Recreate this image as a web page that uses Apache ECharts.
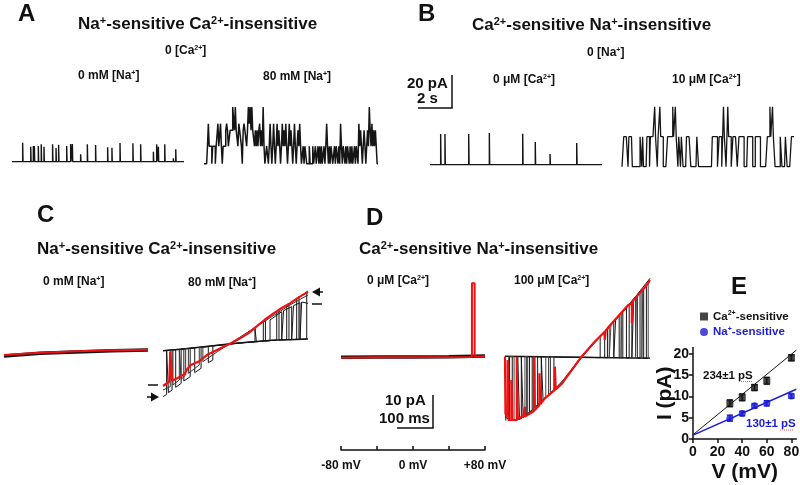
<!DOCTYPE html>
<html><head><meta charset="utf-8">
<script src="https://cdn.jsdelivr.net/npm/echarts@6/dist/echarts.min.js"></script>
<style>html,body{margin:0;padding:0;background:#fff}#c{width:800px;height:485px}</style>
</head><body><div id="c"></div>
<script>
// ---------------- DATA ----------------
// Panel A (time in s, current in pA)
const spikesA1 = [[0.62,11.4],[1.09,9],[1.24,9.4],[1.30,9.4],[1.53,9.4],[1.70,10.4],[1.86,9],[2.36,10.4],[2.56,8.2],[2.71,10.2],[3.18,9.4],[3.41,10.6],[3.51,10.6],[3.99,4.4],[4.38,10.4],[4.86,10],[5.56,8.6],[5.81,8.4],[6.28,11.2],[7.03,11],[7.48,10.4],[8.22,6],[8.41,10.4],[8.51,9],[8.88,10.4],[9.38,2],[9.52,7.4]];
const levelsA2 = [0, 10.5, 20, 24, 34];
const statesA2 = "00001311101110113113101112321122244242213221023221243424221212123121410011013101310131210131213101312101310121310010110001000100100101010010131010110010110103101101011010100101103121012101214213121210";
// Panel B
const spikesB1 = [[0.62,18.4],[0.87,18.4],[2.25,18.4],[3.45,19],[5.39,18.6],[6.12,13.6],[6.98,6.4],[8.53,13]];
const levelsB2 = [0, 18, 27, 36];
const statesB2 = "00111110111100000000011010000111011111311011311100000111111311311011011000011111000000011000000000000000011111100111013110131110011111001111110000111111000111111000000001113113110000001100001100000111";
// Panel C (ramp: mV, pA)
const c1Black = [[-80,-0.8],[-40,0],[0,0.4],[40,0.8],[80,1]];
const c1Red = [[-80,-0.5],[-40,0.2],[0,0.6],[40,0.9],[80,1.1]];
const c2Closed = [[-80,0.8],[-60,1.2],[-40,1.8],[-20,2.4],[0,3],[20,3.5],[40,3.9],[60,4.1],[80,4.3]];
const c2SweepA = [[-80,0.8],[-40,1.8],[0,3],[21.5,3.5],[21.5,7.5],[23,7.8],[23,3.5],[30.7,3.7],[30.7,9.7],[33,10],[33,3.7],[45.5,4],[45.5,12.5],[48,13],[48,4],[56.5,4.1],[56.5,14.5],[59,15],[59,4.1],[67.5,4.2],[67.5,16.5],[70,17],[70,4.2],[78.6,4.3],[78.6,18],[80,18.2]];
const c2SweepB = [[-80,-13],[-76,-12.3],[-76,1],[-74,1],[-74,-11.8],[-70,-11],[-70,1.1],[-66,1.1],[-66,-10.2],[-60,-9],[-60,1.3],[-57,1.3],[-57,-8.3],[-50,-7],[-50,1.5],[-45,1.6],[-45,-5.8],[-38,-4.5],[-38,1.8],[-30,2],[-30,-2.8],[-25,-2],[-25,2.2],[10,3.2],[38.1,3.8],[38.1,10],[51,12.5],[51,4],[53,4],[53,12.8],[62,14],[62,4.1],[64,4.1],[64,14.3],[71.2,15.2],[71.2,4.2],[73,4.2],[73,15.4],[80,15]];
const c2SweepC = [[-80,-11],[-72,-10],[-72,1],[-69,1],[-69,-9.5],[-62,-8],[-62,1.2],[-60,1.2],[-60,-7.8],[-55,-6.5],[-55,1.4],[-52,1.4],[-52,-6],[-40,-3.5],[-40,1.8],[-36,1.9],[-36,-2.5],[-20,0.5],[0,4],[20,7.5],[40,11],[60,14.5],[80,17.5]];
const c2Red = [[-80,-9.8],[-77.8,-9.5],[-73,-8.5],[-72,-8.4],[-72,0.5],[-70,0.5],[-70,-8.2],[-69,-8],[-61,-7],[-56,-6.2],[-54,-5],[-50,-3.6],[-45,-3],[-40,-2.4],[-32,-0.6],[-25,0.4],[-13,2],[-5,3],[5,4.5],[14,6],[23,8],[32,10],[42,12],[51,13.6],[60,15],[68,16.5],[77,18],[80,18.6]];
// Panel D
const d1Black = [[-80,-1.2],[-40,-1.1],[0,-1.1],[40,-1],[80,-0.8]];
const d1Red = [[-80,-1.3],[-40,-1.2],[0,-1.2],[65.5,-1.1],[65.5,21],[68.5,21],[68.5,-1],[80,-0.9]];
const d2Closed = [[-80,-0.9],[0,-1.2],[80,-1.5]];
const d2SweepA = [[-80,-1],[-79,-1],[-79,-21],[-75,-21],[-75,-1],[-72,-1],[-72,-20.5],[-62,-19.5],[-62,-1],[-60,-1],[-60,-19],[-50,-17],[-50,-1],[-47,-1],[-47,-16.5],[-40,-14.5],[-40,-1],[-38,-1],[-38,-14],[-20,-9.5],[0,-2.5],[20,3.5],[40,9.5],[40,-1.2],[42,-1.2],[42,10],[60,15.5],[60,-1.3],[62,-1.3],[62,16.3],[80,22.5]];
const d2SweepB = [[-80,-19],[-70,-21],[-66,-20],[-66,-1],[-64,-1],[-64,-19.8],[-56,-18.5],[-56,-1],[-53,-1],[-53,-18],[-44,-16],[-44,-1],[-30,-1.1],[-30,-12],[-26,-11],[-26,-1.1],[10,-1.2],[25,-1.3],[25,5],[30,6.5],[30,-1.3],[33,-1.3],[33,7.8],[46,11.2],[46,-1.3],[50,-1.3],[50,12.5],[54,13.7],[54,-1.4],[57,-1.4],[57,14.7],[66,17.3],[66,-1.4],[69,-1.4],[69,18.5],[73,19.5],[73,-1.5],[76,-1.5],[76,20.5],[80,21.5]];
const d2SweepC = [[-80,-18],[-76,-19.5],[-76,-1],[-70,-1],[-70,-20],[-58,-19],[-58,-1],[-55,-1],[-55,-18.2],[-35,-13],[-35,-1],[-32,-1],[-32,-12.5],[-10,-6.5],[15,2.5],[35,8],[35,-1.3],[37,-1.3],[37,8.8],[48,12],[48,-1.3],[49,-1.3],[49,12.3],[64,17],[64,-1.4],[65,-1.4],[65,17.2],[71,19],[71,-1.5],[72,-1.5],[72,19.2],[78,21],[78,-1.5],[80,-1.5]];
const d2Red = [[-80,-1],[-79.5,-1],[-79.5,-18],[-77,-19],[-77,-2],[-76,-2],[-76,-20],[-73,-21],[-73,-8],[-72,-8],[-72,-20],[-67,-20],[-67,-1],[-66,-1],[-66,-19.5],[-60,-19],[-58,-16],[-58,-19],[-48,-17.3],[-48,-1],[-47,-1],[-47,-17],[-42,-15.5],[-42,-6],[-41,-6],[-41,-15.2],[-36,-13.5],[-25,-11],[-25,-4],[-24,-4],[-24,-10.8],[-17,-9],[-5,-4.5],[3,-1.5],[19,3.5],[30,6.5],[30,4],[31,4],[31,6.8],[38,9],[56,14.5],[60,15],[60,9],[61,9],[61,15.8],[75,20],[80,22]];
const rampTicks = [-80,-40,0,40,80];
const rampLabels = [-80,0,80];
// Panel E
const voltsE = [30,40,50,60,80];
const caSens = [8.4,9.8,12.1,13.7,19.1];
const caErr = [0.8,0.8,0.7,0.8,0.7];
const naSens = [4.9,6.0,7.8,8.4,10.1];
const naErr = [0.7,0.5,0.5,0.6,0.5];
const caFit = [[0,1.0],[84,20.9]];
const naFit = [[0,0.9],[84,11.7]];
const eXTicks = [0,20,40,60,80];
const eYTicks = [0,5,10,15,20];

// ---------------- BUILD ----------------
const FF = '"Liberation Sans", Arial, Helvetica, sans-serif';
const BLUE = '#1c1cd8';
function spikeTrace(sp, t1){ const d=[[0,0]]; sp.forEach(([t,h])=>{d.push([t,0],[t,h],[t+0.02,h],[t+0.02,0]);}); d.push([t1,0]); return d; }
function stateTrace(str, lv, T){ const n=str.length, dt=T/n, d=[]; for(let i=0;i<n;i++){const v=lv[+str[i]]; d.push([i*dt,v],[(i+1)*dt,v]);} return d; }

const grids = [
 {left:12, top:95, width:172, height:80},
 {left:204, top:97, width:174, height:80},
 {left:430, top:98, width:172, height:80},
 {left:622, top:100, width:172, height:80},
 {left:4, top:270, width:144, height:150},
 {left:163, top:270, width:145, height:150},
 {left:341, top:270, width:144, height:150},
 {left:505, top:270, width:145, height:150},
 {left:341, top:440, width:144, height:10},
 {left:693, top:347.6, width:103.3, height:91.4}
].map(g=>Object.assign({outerBoundsMode:'none', containLabel:false}, g));
const xr=[[0,10],[0,10],[0,10],[0,10],[-80,80],[-80,80],[-80,80],[-80,80],[-80,80],[0,84]];
const yr=[[-8,40],[-8,40],[-8,40],[-8,40],[-20,25],[-20,25],[-20,25],[-20,25],[0,1],[0,21.5]];
const xAxes = xr.map((r,i)=>({gridIndex:i,type:'value',min:r[0],max:r[1],show:false}));
const yAxes = yr.map((r,i)=>({gridIndex:i,type:'value',min:r[0],max:r[1],show:false}));
// voltage axis under D
xAxes[8] = {gridIndex:8,type:'value',min:-80,max:80,show:true,position:'bottom',
  axisLine:{show:true,lineStyle:{color:'#111',width:1.5}},
  axisTick:{show:true,inside:true,length:4,customValues:rampTicks,lineStyle:{color:'#111',width:1.5}},
  axisLabel:{show:true,customValues:rampLabels,margin:10,fontSize:12,fontWeight:'bold',fontFamily:FF,color:'#111',
    formatter:v=>v<0?v+' mV':(v>0?'+'+v+' mV':'0 mV')},
  splitLine:{show:false}};
const axLbl = {show:true,fontSize:14,fontWeight:'bold',fontFamily:FF,color:'#111'};
xAxes[9] = {gridIndex:9,type:'value',min:0,max:84,show:true,
  axisLine:{show:true,lineStyle:{color:'#111',width:1.5}},
  axisTick:{show:true,length:4,customValues:eXTicks,lineStyle:{color:'#111',width:1.5}},
  axisLabel:Object.assign({customValues:eXTicks,margin:6},axLbl),
  splitLine:{show:false},
  name:'V (mV)',nameLocation:'middle',nameGap:23,nameMoveOverlap:false,nameTextStyle:{fontSize:21,fontWeight:'bold',fontFamily:FF,color:'#111'}};
yAxes[9] = {gridIndex:9,type:'value',min:0,max:21.5,show:true,
  axisLine:{show:true,lineStyle:{color:'#111',width:1.5}},
  axisTick:{show:true,length:4,customValues:eYTicks,lineStyle:{color:'#111',width:1.5}},
  axisLabel:Object.assign({customValues:eYTicks,margin:4},axLbl),
  splitLine:{show:false},
  name:'I (pA)',nameLocation:'middle',nameGap:17,nameRotate:90,nameMoveOverlap:false,nameTextStyle:{fontSize:21,fontWeight:'bold',fontFamily:FF,color:'#111'}};

function tr(i, data, color, w, z){ return {type:'line',xAxisIndex:i,yAxisIndex:i,data,symbol:'none',showSymbol:false,silent:true,z:z||2,
  lineStyle:{color,width:w},animation:false}; }
const K='#151515', R='#f01010';
const series = [
  tr(0, spikeTrace(spikesA1,10), K, 1.4),
  tr(1, stateTrace(statesA2, levelsA2, 10), K, 1.5),
  tr(2, spikeTrace(spikesB1,10), K, 1.4),
  tr(3, stateTrace(statesB2, levelsB2, 10), K, 1.3),
  tr(4, c1Black, K, 3.5), tr(4, c1Red, R, 2, 3),
  tr(5, c2Closed, K, 1.5), tr(5, c2SweepA, K, 1), tr(5, c2SweepB, K, 1), tr(5, c2SweepC, '#333', 1), tr(5, c2Red, R, 2.2, 3),
  tr(6, d1Black, K, 3.5), tr(6, d1Red, R, 2, 3),
  tr(7, d2Closed, K, 1.5), tr(7, d2SweepA, K, 1), tr(7, d2SweepB, K, 1), tr(7, d2SweepC, '#444', 1), tr(7, d2Red, R, 2.2, 3),
  tr(9, caFit, K, 1), tr(9, naFit, BLUE, 1.5)
];
function errBars(vals, errs, color){
  return {type:'custom',xAxisIndex:9,yAxisIndex:9,silent:true,z:4,
    data: voltsE.map((v,i)=>[v, vals[i], errs[i]]),
    renderItem:(p,api)=>{const x=api.value(0),y=api.value(1),e=api.value(2);
      const a=api.coord([x,y+e]), b=api.coord([x,y-e]);
      return {type:'group',children:[
        {type:'line',shape:{x1:a[0],y1:a[1],x2:b[0],y2:b[1]},style:{stroke:color,lineWidth:1.5}},
        {type:'line',shape:{x1:a[0]-3,y1:a[1],x2:a[0]+3,y2:a[1]},style:{stroke:color,lineWidth:1.5}},
        {type:'line',shape:{x1:b[0]-3,y1:b[1],x2:b[0]+3,y2:b[1]},style:{stroke:color,lineWidth:1.5}}]};}};
}
series.push(errBars(caSens, caErr, K), errBars(naSens, naErr, BLUE));
series.push({type:'scatter',name:'Ca',xAxisIndex:9,yAxisIndex:9,symbol:'rect',symbolSize:7,itemStyle:{color:K},z:5,
  data:voltsE.map((v,i)=>[v,caSens[i]])});
series.push({type:'scatter',name:'Na',xAxisIndex:9,yAxisIndex:9,symbol:'circle',symbolSize:7,itemStyle:{color:BLUE},z:5,
  data:voltsE.map((v,i)=>[v,naSens[i]])});

// text helper with ^sup^ markup
function txt(x, y, str, size, color){
  const parts = str.split('^'); let t='';
  parts.forEach((p,i)=>{ if(p) t += '{'+(i%2?'s':'m')+'|'+p+'}'; });
  const ss = Math.round(size*0.62);
  return {type:'text',x,y,silent:true,z:10,style:{text:t,align:'left',verticalAlign:'middle',textAlign:'left',textVerticalAlign:'middle',
    rich:{m:{fontSize:size,fontWeight:'bold',fontFamily:FF,fill:color||'#111',lineHeight:size+1},
          s:{fontSize:ss,fontWeight:'bold',fontFamily:FF,fill:color||'#111',verticalAlign:'top',lineHeight:ss}}}};
}
function ln(x1,y1,x2,y2,w,c,dash){ return {type:'line',silent:true,z:10,shape:{x1,y1,x2,y2},style:{stroke:c||'#111',lineWidth:w||1.5,lineDash:dash||null}}; }
function tri(pts){ return {type:'polygon',silent:true,z:10,shape:{points:pts},style:{fill:'#111'}}; }

const graphics = [
  txt(18,14,'A',24), txt(78,24,'Na^+^-sensitive Ca^2+^-insensitive',17),
  txt(165,51,'0 [Ca^2+^]',12), txt(78,76,'0 mM [Na^+^]',12), txt(263,77,'80 mM [Na^+^]',12),
  txt(418,14,'B',24), txt(472,25,'Ca^2+^-sensitive Na^+^-insensitive',17),
  txt(587,53,'0 [Na^+^]',12), txt(493,80,'0 \u03bcM [Ca^2+^]',12), txt(672,80,'10 \u03bcM [Ca^2+^]',12),
  txt(407,84,'20 pA',15), txt(417,99,'2 s',15),
  ln(452,75,452,108), ln(418,108,452.75,108),
  txt(37,215,'C',24), txt(37,249,'Na^+^-sensitive Ca^2+^-insensitive',17),
  txt(43,282,'0 mM [Na^+^]',12), txt(188,283,'80 mM [Na^+^]',12),
  txt(366,218,'D',24), txt(359,249,'Ca^2+^-sensitive Na^+^-insensitive',17),
  txt(367,281,'0 \u03bcM [Ca^2+^]',12), txt(514,281,'100 \u03bcM [Ca^2+^]',12),
  txt(385,401,'10 pA',15), txt(379,419,'100 ms',15),
  ln(433,395,433,428), ln(397,428,433.75,428),
  // arrows / level marks in C
  tri([[312,292],[320,287.5],[320,296.5]]), ln(319,292,323,292,1.5),
  ln(312,304,322,304,1.5),
  ln(148,385,158,385,1.5),
  tri([[159,397],[151,392.5],[151,401.5]]), ln(147,397,152,397,1.5),
  txt(731,287,'E',24),
  txt(703,376,'234\u00b11 pS',11.5,'#111'), txt(746,424,'130\u00b11 pS',11.5,BLUE),
  ln(739,381.5,752,381.5,1,'#e06060',[1,1]), ln(780,430,793,430,1,'#e06060',[1,1])
];

const chart = echarts.init(document.getElementById('c'), null, {renderer:'canvas'});
chart.setOption({
  animation:false, backgroundColor:'#fff',
  grid:grids, xAxis:xAxes, yAxis:yAxes, series, graphic:{elements:graphics},
  legend:{show:true,orient:'vertical',left:695,top:305,itemGap:3,itemWidth:8,itemHeight:8,selectedMode:false,
    data:[{name:'Ca',icon:'rect'},{name:'Na',icon:'circle'}],
    formatter:n=>n==='Ca'?'{mk|Ca}{sk|2+}{mk|-sensitive}':'{mb|Na}{sb|+}{mb|-sensitive}',
    textStyle:{fontFamily:FF,fontWeight:'bold',fontSize:11.5,
      rich:{mk:{color:'#111',fontSize:11.5,fontWeight:'bold',fontFamily:FF,lineHeight:13},
            sk:{color:'#111',fontSize:7,fontWeight:'bold',fontFamily:FF,verticalAlign:'top',lineHeight:7},
            mb:{color:BLUE,fontSize:11.5,fontWeight:'bold',fontFamily:FF,lineHeight:13},
            sb:{color:BLUE,fontSize:7,fontWeight:'bold',fontFamily:FF,verticalAlign:'top',lineHeight:7}}}}
});
</script></body></html>
